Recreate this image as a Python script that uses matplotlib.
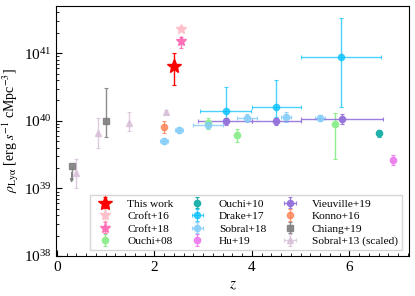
import numpy as np
import matplotlib
matplotlib.use('Agg')
import matplotlib.pyplot as plt
from matplotlib.ticker import MultipleLocator

plt.rcParams['font.family'] = 'serif'
plt.rcParams['font.serif'] = ['Liberation Serif', 'DejaVu Serif']
plt.rcParams['mathtext.fontset'] = 'stix'

# --- data (z, rho, lower err, upper err, x half width) ---
this_z = [2.4]; this_rho = [6.5e40]; this_lo = [3.1e40]; this_hi = [3.5e40]

croft16_z = [2.55]; croft16_rho = [2.3e41]; croft16_lo = [0.2e41]; croft16_hi = [0.2e41]
croft18_z = [2.55]; croft18_rho = [1.5e41]; croft18_lo = [0.3e41]; croft18_hi = [0.25e41]

ouchi08_z = [3.1, 3.7, 5.7]
ouchi08_rho = [9.3e39, 6.2e39, 9.1e39]
ouchi08_lo = [1.8e39, 1.4e39, 6.4e39]
ouchi08_hi = [1.7e39, 1.4e39, 3.8e39]

ouchi10_z = [6.6]; ouchi10_rho = [6.6e39]; ouchi10_lo = [0.8e39]; ouchi10_hi = [0.7e39]

drake17_z = [3.46, 4.5, 5.82]
drake17_rho = [1.42e40, 1.6e40, 8.7e40]
drake17_lo = [0.33e40, 0.45e40, 7.1e40]
drake17_hi = [1.75e40, 2.4e40, 25e40]
drake17_xlo = [0.53, 0.5, 0.82]
drake17_xhi = [0.53, 0.5, 0.83]

sobral18_z = [2.2, 2.5, 3.1, 3.9, 4.7, 5.4]
sobral18_rho = [5.1e39, 7.4e39, 8.7e39, 1.1e40, 1.15e40, 1.1e40]
sobral18_yerr = [0.5e39, 0.7e39, 1.0e39, 1.5e39, 2.0e39, 1.2e39]
sobral18_xerr = [0.08, 0.08, 0.3, 0.2, 0.1, 0.1]

hu19_z = [6.9]; hu19_rho = [2.6e39]; hu19_lo = [0.4e39]; hu19_hi = [0.5e39]

vieu19_z = [3.46, 4.5, 5.86]
vieu19_rho = [9.8e39, 9.8e39, 1.07e40]
vieu19_yerr = [1.2e39, 1.2e39, 1.8e39]
vieu19_xlo = [0.56, 0.5, 0.86]
vieu19_xhi = [0.54, 0.5, 0.84]

konno16_z = [2.2]; konno16_rho = [8.1e39]; konno16_lo = [1.6e39]; konno16_hi = [2.0e39]

chiang19_z = [1.0]; chiang19_rho = [1.0e40]; chiang19_lo = [0.42e40]; chiang19_hi = [2.1e40]
chiang19_lim_z = [0.3]; chiang19_lim_rho = [2.15e39]

sobral13_z = [0.4, 0.84, 1.47, 2.23]
sobral13_rho = [1.7e39, 6.5e39, 9.4e39, 1.35e40]
sobral13_lo = [0.7e39, 2.5e39, 2.4e39, 0.1e40]
sobral13_hi = [1.05e39, 4.4e39, 4.1e39, 0.1e40]

fig = plt.figure(figsize=(4.15, 2.96), dpi=100)
ax = fig.add_axes([0.135, 0.135, 0.851, 0.845])

kw = dict(ls='none', capsize=1.5, elinewidth=1.0, capthick=0.8)

h = {}
h['This work'] = ax.errorbar(this_z, this_rho, yerr=[this_lo, this_hi], fmt='*', color='red',
                             ms=10, zorder=10, **kw)
h['Croft+16'] = ax.errorbar(croft16_z, croft16_rho, yerr=[croft16_lo, croft16_hi], fmt='*',
                            color='pink', ms=7, **kw)
h['Croft+18'] = ax.errorbar(croft18_z, croft18_rho, yerr=[croft18_lo, croft18_hi], fmt='*',
                            color='hotpink', ms=7, alpha=0.9, **kw)
h['Ouchi+08'] = ax.errorbar(ouchi08_z, ouchi08_rho, yerr=[ouchi08_lo, ouchi08_hi], fmt='o',
                            color='lightgreen', ms=4.5, **kw)
h['Ouchi+10'] = ax.errorbar(ouchi10_z, ouchi10_rho, yerr=[ouchi10_lo, ouchi10_hi], fmt='o',
                            color='lightseagreen', ms=4.5, **kw)
h['Drake+17'] = ax.errorbar(drake17_z, drake17_rho, yerr=[drake17_lo, drake17_hi],
                            xerr=[drake17_xlo, drake17_xhi], fmt='o', color='deepskyblue',
                            ms=4.5, alpha=0.7, mec='deepskyblue', **kw)
h['Sobral+18'] = ax.errorbar(sobral18_z, sobral18_rho, yerr=sobral18_yerr, xerr=sobral18_xerr,
                             fmt='o', color='lightskyblue', ms=4.5, alpha=0.85, **kw)
h['Hu+19'] = ax.errorbar(hu19_z, hu19_rho, yerr=[hu19_lo, hu19_hi], fmt='o', color='violet',
                         ms=4.5, **kw)
h['Vieuville+19'] = ax.errorbar(vieu19_z, vieu19_rho, yerr=vieu19_yerr, xerr=[vieu19_xlo, vieu19_xhi],
                                fmt='o', color='mediumpurple', ms=4.5, alpha=0.9, **kw)
h['Konno+16'] = ax.errorbar(konno16_z, konno16_rho, yerr=[konno16_lo, konno16_hi], fmt='o',
                            color='coral', ms=4.5, alpha=0.75, **kw)
h['Chiang+19'] = ax.errorbar(chiang19_z, chiang19_rho, yerr=[chiang19_lo, chiang19_hi], fmt='s',
                             color='grey', ms=4.5, alpha=0.9, **kw)
ax.errorbar(chiang19_lim_z, chiang19_lim_rho, yerr=[[0.8e39], [0]],
            fmt='s', color='grey', ms=4.5, alpha=0.9, ls='none', elinewidth=1.0)
ax.annotate('', xy=(chiang19_lim_z[0], 1.1e39), xytext=(chiang19_lim_z[0], 1.9e39),
            arrowprops=dict(arrowstyle='-|>', color='grey', lw=0.8, mutation_scale=5))
h['Sobral+13 (scaled)'] = ax.errorbar(sobral13_z, sobral13_rho, yerr=[sobral13_lo, sobral13_hi],
                                      xerr=0.0, fmt='^', color='thistle', ms=4.5, alpha=0.8, **kw)

ax.set_yscale('log')
ax.set_xlim(-0.02, 7.23)
ax.set_ylim(1e38, 5e41)
ax.xaxis.set_minor_locator(MultipleLocator(0.2))
ax.tick_params(which='both', direction='in', top=False, right=False, labelsize=11)
ax.tick_params(which='major', length=4)
ax.tick_params(which='minor', length=2)
ax.set_xlabel('$z$', fontsize=11)
ax.set_ylabel(r'$\rho_{\rm Ly\alpha}$ [erg $s^{-1}$ cMpc$^{-3}$]', fontsize=10, labelpad=2)

order = ['This work', 'Croft+16', 'Croft+18', 'Ouchi+08',
         'Ouchi+10', 'Drake+17', 'Sobral+18', 'Hu+19',
         'Vieuville+19', 'Konno+16', 'Chiang+19', 'Sobral+13 (scaled)']
ax.legend([h[k] for k in order], order, ncol=3, loc='lower right', fontsize=8.2,
          fancybox=False, edgecolor='#cccccc', borderpad=0.35, labelspacing=0.22,
          columnspacing=1.1, handletextpad=0.9, bbox_to_anchor=(0.995, 0.0))

fig.savefig('out.png', dpi=100)
